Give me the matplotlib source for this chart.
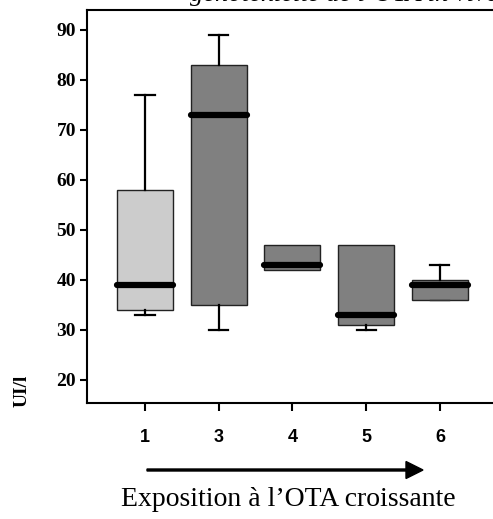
import numpy as np
import matplotlib
matplotlib.use('Agg')
import matplotlib.pyplot as plt

# --- data ---
groups = ['1', '3', '4', '5', '6']
whis_lo = [33, 30, 42, 30, 36]
q1 = [34, 35, 42, 31, 36]
med = [39, 73, 43, 33, 39]
q3 = [58, 83, 47, 47, 40]
whis_hi = [77, 89, 47, 47, 43]
colors = ['#cccccc', '#808080', '#808080', '#808080', '#808080']
yticks = [20, 30, 40, 50, 60, 70, 80, 90]

fig = plt.figure(figsize=(4.93, 5.19), dpi=100)
ax = fig.add_axes([87/493, 116/519, 1 - 87/493, 393/519])

stats = []
for i, g in enumerate(groups):
    stats.append(dict(label=g, whislo=whis_lo[i], q1=q1[i], med=med[i],
                      q3=q3[i], whishi=whis_hi[i], fliers=[]))

bp = ax.bxp(stats, positions=range(len(groups)), widths=0.76, patch_artist=True,
            showfliers=False,
            boxprops=dict(edgecolor='#222222', linewidth=1.0),
            medianprops=dict(color='black', linewidth=4.5, solid_capstyle='round'),
            whiskerprops=dict(color='black', linewidth=1.6),
            capprops=dict(color='black', linewidth=1.6),
            capwidths=0.26)
for patch, c in zip(bp['boxes'], colors):
    patch.set_facecolor(c)
# no caps where the whisker ends on the box edge
for i in range(len(groups)):
    if whis_lo[i] == q1[i]:
        bp['caps'][2*i].set_color('#333333')
        bp['caps'][2*i].set_linewidth(1.0)
    if whis_hi[i] == q3[i]:
        bp['caps'][2*i + 1].set_visible(False)
bp['caps'][4].set_visible(False)

ax.set_xlim(-0.786, 4.72)
ax.set_ylim(15.4, 94)
ax.set_yticks(yticks)
ax.set_yticklabels([str(v) for v in yticks], family='Liberation Serif',
                   fontweight='bold', fontsize=14)
ax.set_xticks(range(len(groups)))
ax.set_xticklabels(groups, family='Liberation Sans', fontweight='bold', fontsize=13)
ax.tick_params(axis='y', length=5, width=1.5, pad=3)
ax.tick_params(axis='x', length=6, width=1.5, pad=13)
ax.spines['right'].set_visible(False)
for s in ['left', 'bottom', 'top']:
    ax.spines[s].set_linewidth(1.5)

# y label
fig.text(22/493, 1 - 391/519, 'UI/l', rotation=90, ha='center', va='center',
         family='Liberation Serif', fontweight='bold', fontsize=14)

# arrow under the tick labels
fig.patches.append(matplotlib.patches.FancyArrow(
    147/493, 1 - 470/519, (423 - 147 - 17)/493, 0,
    width=2/519, head_width=17/519, head_length=17/493,
    length_includes_head=False, color='black', transform=fig.transFigure))

fig.text(288/493, 1 - 500/519, 'Exposition à l’OTA croissante', ha='center', va='center',
         family='Liberation Serif', fontsize=20)

# title, mostly cut off by the top edge as in the reference
fig.text(190/493, 1 - 0.5/519, 'génotoxicité de l’OTA in vivo', ha='left', va='baseline',
         family='Liberation Serif', style='italic', fontsize=19)

fig.savefig('out.png', dpi=100)
